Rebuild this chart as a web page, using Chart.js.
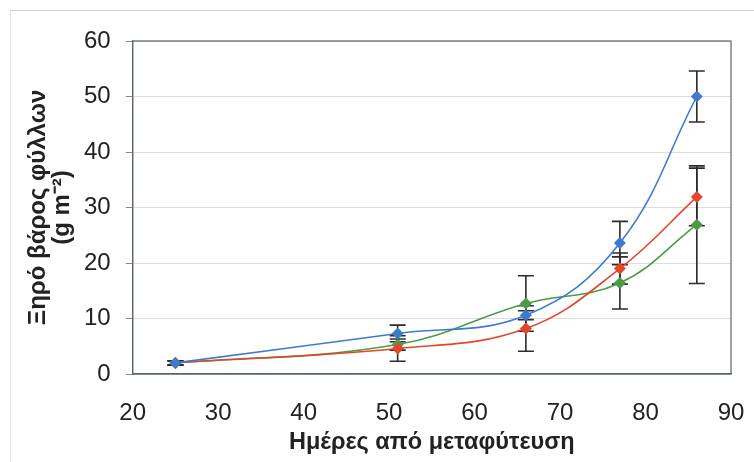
<!DOCTYPE html>
<html lang="el">
<head>
  <meta charset="UTF-8">
  <title>Ξηρό βάρος φύλλων</title>
  <script src="https://cdn.jsdelivr.net/npm/chart.js"></script>
  <style>
    body {
      margin: 0;
      padding: 0;
      background: #fff;
    }
    .wrap {
      position: relative;
      width: 754px;
      height: 462px;
    }
    .frame {
      position: absolute;
      left: 10px;
      top: 10px;
      width: 760px;
      height: 470px;
      border-top: 1px solid #cfcfcf;
      border-left: 1px solid #e2e2e2;
    }
    canvas {
      position: absolute;
      left: 0;
      top: 0;
    }
  </style>
</head>
<body>
  <div class="wrap">
    <div class="frame"></div>
    <canvas id="chart" width="754" height="462"></canvas>
  </div>

  <script>
    // days after transplanting
    const days = [25, 51, 66, 77, 86];

    // leaf dry weight (g m-2) per treatment
    const blueVals = [2.0, 7.3, 10.6, 23.6, 50.0];
    const redVals = [2.0, 4.6, 8.2, 19.0, 31.9];
    const greenVals = [2.0, 5.3, 12.7, 16.4, 26.9];

    // error bars (+/-)
    const blueErr = [0.4, 1.5, 0.8, 3.9, 4.6];
    const redErr = [0.4, 2.3, 4.1, 2.8, 5.2];
    const greenErr = [0.4, 1.0, 5.0, 4.7, 10.6];

    const xTicks = [20, 30, 40, 50, 60, 70, 80, 90];
    const yTicks = [0, 10, 20, 30, 40, 50, 60];

    const FONT = "'Liberation Sans', Arial, sans-serif";
    const toPoints = (vals) => days.map((d, i) => ({ x: d, y: vals[i] }));

    // draws the error bars and the plot box
    const errorBars = {
      id: 'errorBars',
      beforeDatasetsDraw(chart) {
        const { ctx, scales } = chart;
        ctx.save();
        ctx.strokeStyle = '#2b2b2b';
        ctx.lineWidth = 1.6;
        chart.data.datasets.forEach((ds) => {
          ds.data.forEach((p, i) => {
            const e = ds.errors[i];
            const px = scales.x.getPixelForValue(p.x);
            const top = scales.y.getPixelForValue(p.y + e);
            const bot = scales.y.getPixelForValue(p.y - e);
            ctx.beginPath();
            ctx.moveTo(px, top);
            ctx.lineTo(px, bot);
            ctx.moveTo(px - 8, top);
            ctx.lineTo(px + 8, top);
            ctx.moveTo(px - 8, bot);
            ctx.lineTo(px + 8, bot);
            ctx.stroke();
          });
        });
        ctx.restore();
      },
      afterDraw(chart) {
        const { ctx, chartArea: a } = chart;
        ctx.save();
        ctx.strokeStyle = '#5a6470';
        ctx.lineWidth = 1.2;
        ctx.strokeRect(a.left, a.top, a.right - a.left, a.bottom - a.top);
        ctx.restore();
      }
    };

    function series(label, vals, errs, color) {
      return {
        label: label,
        data: toPoints(vals),
        errors: errs,
        borderColor: color,
        backgroundColor: color,
        borderWidth: 1.6,
        tension: 0.4,
        pointStyle: 'rectRot',
        pointRadius: 6,
        pointBorderWidth: 0,
      };
    }

    new Chart(document.getElementById('chart'), {
      type: 'line',
      data: {
        datasets: [
          series('Σειρά 1', blueVals, blueErr, '#3f7bcc'),
          series('Σειρά 2', redVals, redErr, '#e2472b'),
          series('Σειρά 3', greenVals, greenErr, '#4c9a44'),
        ],
      },
      options: {
        responsive: false,
        animation: false,
        layout: {
          padding: { left: 26, top: 41, right: 23, bottom: 5 }
        },
        plugins: {
          legend: { display: false },
          tooltip: { enabled: false },
        },
        scales: {
          x: {
            type: 'linear',
            min: 20,
            max: 90,
            afterBuildTicks: (axis) => { axis.ticks = xTicks.map((v) => ({ value: v })); },
            afterFit: (axis) => { axis.paddingRight = 0; },
            grid: { display: false },
            border: { display: true, color: '#5a6470', width: 1.2 },
            ticks: {
              color: '#222',
              padding: 17,
              maxRotation: 0,
              font: { family: FONT, size: 24 },
            },
            title: {
              display: true,
              text: 'Ημέρες από μεταφύτευση',
              color: '#222',
              padding: { top: -16, bottom: 0 },
              font: { family: FONT, size: 23.5, weight: 'bold' },
            },
          },
          y: {
            min: 0,
            max: 60,
            afterBuildTicks: (axis) => { axis.ticks = yTicks.map((v) => ({ value: v })); },
            grid: {
              color: '#dedede',
              tickColor: '#8a8a8a',
              tickLength: 7,
            },
            border: { display: true, color: '#5a6470', width: 1.2 },
            ticks: {
              color: '#222',
              padding: 15,
              font: { family: FONT, size: 24 },
            },
            title: {
              display: true,
              text: ['Ξηρό βάρος φύλλων', '(g m⁻²)'],
              color: '#222',
              padding: { top: 0, bottom: -5 },
              font: { family: FONT, size: 24, weight: 'bold', lineHeight: 1.0 },
            },
          },
        },
      },
      plugins: [errorBars],
    });
  </script>
</body>
</html>
